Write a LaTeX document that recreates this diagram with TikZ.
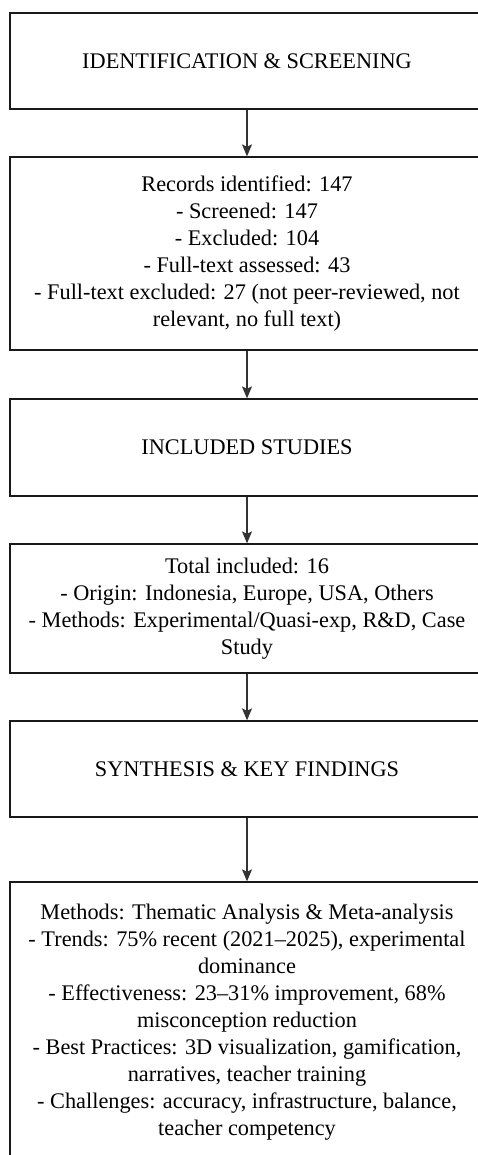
\documentclass[tikz,border=0pt]{standalone}
\usepackage{fontspec}
\setmainfont{Liberation Serif}
\usetikzlibrary{calc,arrows.meta}

\begin{document}
\begin{tikzpicture}[x=1pt,y=-1pt,
  stagebox/.style={draw=black!90,rectangle,line width=1.3pt,minimum width=474pt,align=center,
    font=\fontsize{22.3}{27}\selectfont,inner sep=0pt},
  flow/.style={-{Stealth[length=12pt,width=10pt,inset=2.5pt]},line width=1.3pt,draw=black!80}]
\useasboundingbox (0,0) rectangle (478,1155);
\clip (0,0) rectangle (478,1155);

\draw node [stagebox,minimum height=96pt] at (247,61) (ident){IDENTIFICATION \& SCREENING};
\draw node [stagebox,minimum height=193pt] at (247,253.5) (records){Records identified: 147\\
 - Screened: 147\\ - Excluded: 104\\ - Full-text assessed: 43\\
 - Full-text excluded: 27 (not peer-reviewed, not\\ relevant, no full text)};
\draw node [stagebox,minimum height=97pt] at (247,447.5) (included){INCLUDED STUDIES};
\draw node [stagebox,minimum height=129pt] at (247,608.5) (total){Total included: 16\\
 - Origin: Indonesia, Europe, USA, Others\\ - Methods: Experimental/Quasi-exp, R\&D, Case\\ Study};
\draw node [stagebox,minimum height=96pt] at (247,769) (synth){SYNTHESIS \& KEY FINDINGS};
\draw node [stagebox,minimum height=280pt] at (247,1022) (findings){Methods: Thematic Analysis \& Meta-analysis\\
 - Trends: 75\% recent (2021--2025), experimental\\ dominance\\
 - Effectiveness: 23--31\% improvement, 68\%\\ misconception reduction\\
 - Best Practices: 3D visualization, gamification,\\ narratives, teacher training\\
 - Challenges: accuracy, infrastructure, balance,\\ teacher competency};

\draw[flow] (ident) -- (records);
\draw[flow] (records) -- (included);
\draw[flow] (included) -- (total);
\draw[flow] (total) -- (synth);
\draw[flow] (synth) -- (findings);

\end{tikzpicture}
\end{document}
